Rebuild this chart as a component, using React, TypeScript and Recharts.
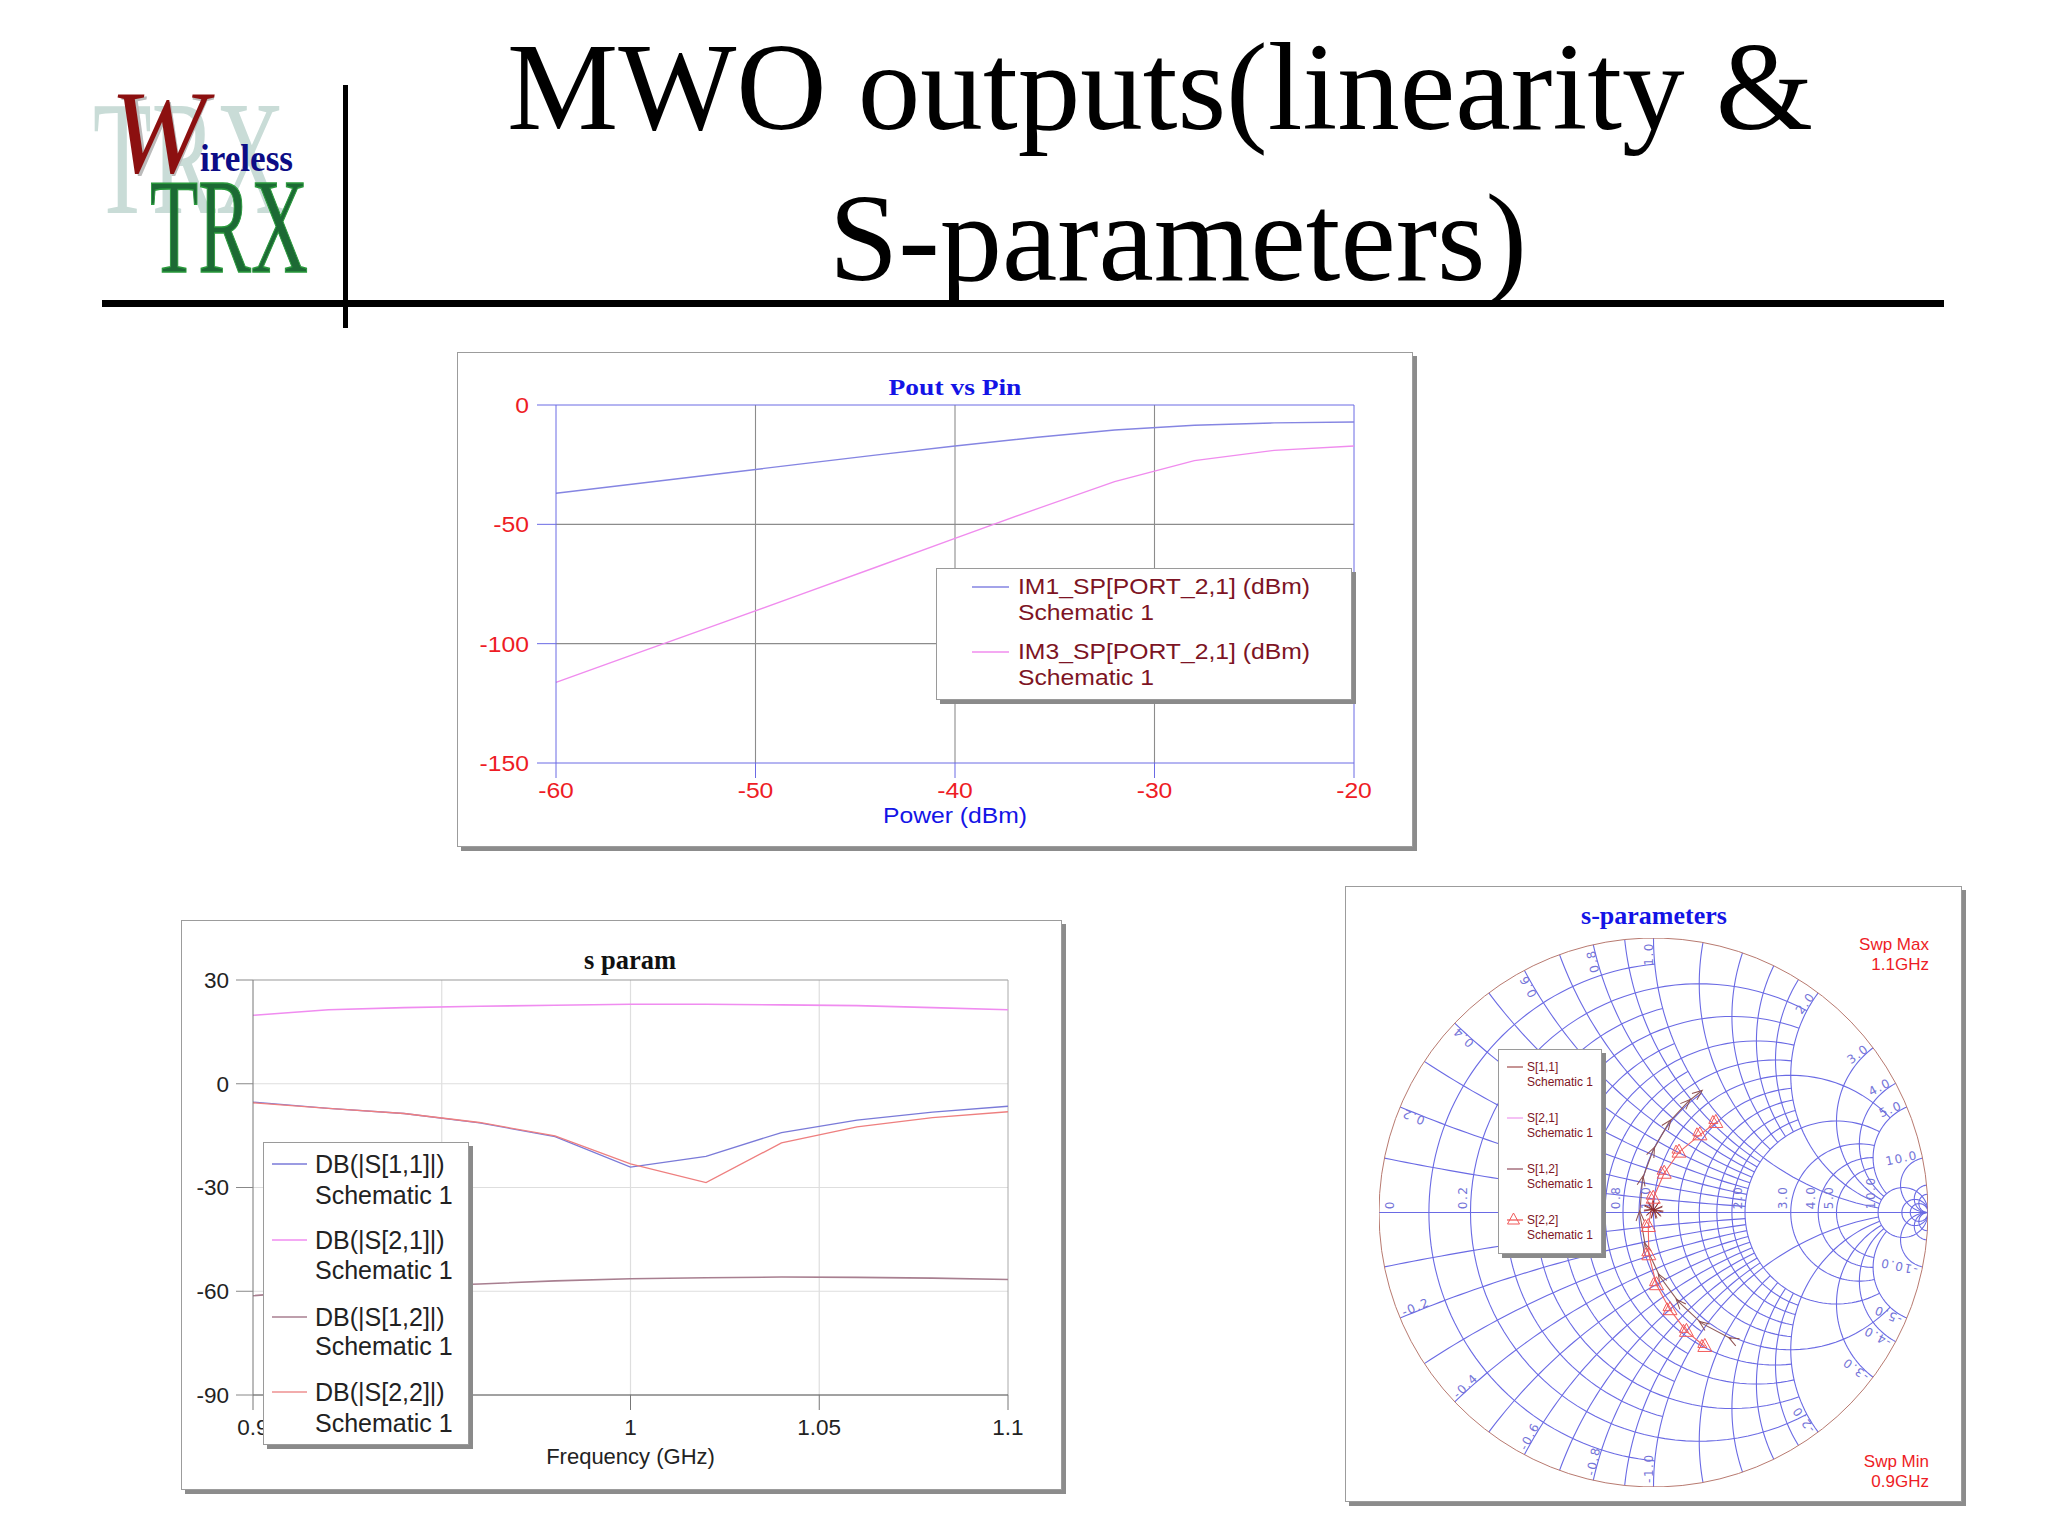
import React from 'react';
import {
  LineChart,
  ComposedChart,
  Line,
  XAxis,
  YAxis,
  CartesianGrid,
  ReferenceLine,
  ReferenceDot,
} from 'recharts';

// Pout vs Pin
const pinDbm = [-60, -56, -52, -48, -44, -40, -36, -32, -28, -24, -20];
const im1Dbm = [-37, -33, -29, -25, -21, -17.2, -13.6, -10.5, -8.5, -7.5, -7.1];
const im3Dbm = [-116.2, -104.2, -92.2, -80.2, -68.1, -55.9, -43.8, -32.1, -23.3, -19, -17.2];

// s param
const freqGhz = [0.9, 0.92, 0.94, 0.96, 0.98, 1, 1.02, 1.04, 1.06, 1.08, 1.1];
const s11Db = [-5.3, -7.1, -8.6, -11.3, -15.3, -24.1, -21, -14.1, -10.5, -8.2, -6.5];
const s21Db = [19.8, 21.4, 22, 22.4, 22.7, 23, 23, 22.8, 22.6, 22, 21.4];
const s12Db = [-61.3, -59.6, -58.6, -57.9, -57, -56.4, -56.1, -55.9, -56, -56.2, -56.6];
const s22Db = [-5.5, -7.1, -8.6, -11.2, -15.1, -23.2, -28.6, -17.1, -12.5, -9.8, -8.1];

// s-parameters, reflection coefficient
const s11Re = [0.284, 0.175, 0.09, 0.023, -0.03, -0.05, -0.04, -0.001, 0.057, 0.126, 0.169];
const s11Im = [-0.461, -0.403, -0.324, -0.233, -0.12, -0.005, 0.123, 0.228, 0.329, 0.404, 0.438];
const s22Re = [0.187, 0.12, 0.06, 0.011, -0.017, -0.019, -0.001, 0.039, 0.093, 0.169, 0.227];
const s22Im = [-0.488, -0.433, -0.354, -0.263, -0.154, -0.051, 0.052, 0.143, 0.22, 0.283, 0.328];
const s12Re = [0.002, 0.001, 0, -0.001, -0.002, -0.002, -0.001, 0, 0.001, 0.002, 0.002];
const s12Im = [0.012, 0.012, 0.012, 0.011, 0.01, 0.009, 0.008, 0.008, 0.009, 0.01, 0.011];

// Smith grid: constant r circles and constant x arcs, with how far each one runs
const rToX1 = [0.1, 0.3, 0.5, 0.7, 0.9];
const rToX2 = [0.2, 0.4, 0.6, 0.8, 1.2, 1.4, 1.6, 1.8];
const rToX5 = [1, 2, 3, 4, 5];
const rFull = [10, 20, 30];
const xToR2 = [0.1, 0.2, 0.3, 0.4, 0.5, 0.6, 0.7, 0.8, 0.9, 1.2, 1.4, 1.6, 1.8];
const xToR10 = [1, 2, 3, 4, 5];
const xFull = [10, 20, 30];
const rLabels = ['0.2', '0.8', '1.0', '2.0', '3.0', '4.0', '5.0', '10.0'];
const xLabels = ['0.2', '0.4', '0.6', '0.8', '1.0', '2.0', '3.0', '4.0', '5.0', '10.0'];

const BLUE = '#6a6ae4';
const RED = '#ee1c25';
const MAROON = '#7d1424';
const WIDE = 1.16; // first chart is stretched sideways on the slide

type Pt = { re: number; im: number };

const zip = (re: number[], im: number[]): Pt[] => re.map((v, i) => ({ re: v, im: im[i] }));

const gamma = (r: number, x: number): Pt => {
  const d = (r + 1) * (r + 1) + x * x;
  return { re: (r * r + x * x - 1) / d, im: (2 * x) / d };
};

const rCircle = (r: number, xMax: number): Pt[] => {
  const uMax = xMax === Infinity ? Math.PI / 2 : Math.atan(xMax / (1 + r));
  const pts: Pt[] = [];
  for (let i = 0; i <= 90; i++) {
    const u = -uMax + (2 * uMax * i) / 90;
    if (Math.abs(u) >= Math.PI / 2 - 1e-9) pts.push({ re: 1, im: 0 });
    else pts.push(gamma(r, (1 + r) * Math.tan(u)));
  }
  return pts;
};

const xArc = (x: number, rMax: number, sign: number): Pt[] => {
  const uMin = Math.atan(1 / x);
  const uMax = rMax === Infinity ? Math.PI / 2 : Math.atan((1 + rMax) / x);
  const pts: Pt[] = [];
  for (let i = 0; i <= 50; i++) {
    const u = uMin + ((uMax - uMin) * i) / 50;
    if (u >= Math.PI / 2 - 1e-9) pts.push({ re: 1, im: 0 });
    else pts.push(gamma(x * Math.tan(u) - 1, sign * x));
  }
  return pts;
};

const smithGrid: Pt[][] = [
  ...rToX1.map((r) => rCircle(r, 1)),
  ...rToX2.map((r) => rCircle(r, 2)),
  ...rToX5.map((r) => rCircle(r, 5)),
  ...rFull.map((r) => rCircle(r, Infinity)),
  ...[1, -1].flatMap((s) => [
    ...xToR2.map((x) => xArc(x, 2, s)),
    ...xToR10.map((x) => xArc(x, 10, s)),
    ...xFull.map((x) => xArc(x, Infinity, s)),
  ]),
  [{ re: -1, im: 0 }, { re: 1, im: 0 }],
];

const Frame = ({ left, top, width, height, children }: any) => (
  <div
    style={{
      position: 'absolute',
      left,
      top,
      width,
      height,
      boxSizing: 'border-box',
      background: '#fff',
      border: '1px solid #9c9c9c',
      boxShadow: '4px 4px 0 #8c8c8c',
    }}
  >
    {children}
  </div>
);

const Caption = ({ x, y, color, font, size, weight, anchor, scaleX, children }: any) => (
  <div
    style={{
      position: 'absolute',
      left: anchor === 'right' ? x - 300 : x - 150,
      width: 300,
      top: y - 20,
      height: 40,
      lineHeight: '40px',
      textAlign: anchor === 'right' ? 'right' : 'center',
      color,
      fontFamily: font,
      fontSize: size,
      fontWeight: weight ?? 400,
      whiteSpace: 'nowrap',
      transform: scaleX ? `scaleX(${scaleX})` : undefined,
      zIndex: 1,
    }}
  >
    {children}
  </div>
);

// legend rows: y is the centre of each text line inside the box
const LegendBox = ({ box, rows, swatchX, textX, font, size, textColor, scaleX }: any) => (
  <div
    style={{
      position: 'absolute',
      ...box,
      boxSizing: 'border-box',
      background: '#fff',
      border: '1px solid #9a9a9a',
      boxShadow: '4px 4px 0 #8a8a8a',
      zIndex: 2,
    }}
  >
    {rows.map((row: any, i: number) => (
      <React.Fragment key={i}>
        {row.color && (
          <svg
            width={swatchX[1] - swatchX[0] + 4}
            height={20}
            style={{ position: 'absolute', left: swatchX[0] - 2, top: row.y - 10 }}
          >
            <line x1={2} x2={swatchX[1] - swatchX[0] + 2} y1={10} y2={10} stroke={row.color} strokeWidth={1.3} />
            {row.triangle && <path d="M8.5,3 L2.5,14 L14.5,14 Z" fill="none" stroke={row.color} strokeWidth={1} />}
          </svg>
        )}
        <div
          style={{
            position: 'absolute',
            left: textX,
            top: row.y - 16,
            height: 32,
            lineHeight: '32px',
            fontFamily: font,
            fontSize: size,
            color: textColor,
            whiteSpace: 'nowrap',
            transform: scaleX ? `scaleX(${scaleX})` : undefined,
            transformOrigin: 'left center',
          }}
        >
          {row.text}
        </div>
      </React.Fragment>
    ))}
  </div>
);

const WideTick = ({ x, y, payload, textAnchor, dy }: any) => (
  <text
    transform={`translate(${x},${y}) scale(${WIDE},1)`}
    dy={dy}
    textAnchor={textAnchor}
    fill={RED}
    fontSize={21.3}
    fontFamily="'Liberation Sans'"
  >
    {payload.value}
  </text>
);

const PoutChart = () => {
  const data = pinDbm.map((p, i) => ({ p, im1: im1Dbm[i], im3: im3Dbm[i] }));
  return (
    <Frame left={457} top={352} width={956} height={495}>
      <Caption x={497} y={34} color="#1414e6" font="'Liberation Serif'" size={23.7} weight={700} scaleX={WIDE}>
        Pout vs Pin
      </Caption>
      <Caption x={497} y={463} color="#1414e6" font="'Liberation Sans'" size={21.3} scaleX={WIDE}>
        Power (dBm)
      </Caption>
      <LineChart width={954} height={493} data={data} margin={{ top: 52, right: 58, left: 0, bottom: 0 }}>
        <CartesianGrid stroke="#8c8c8c" strokeWidth={1.1} verticalValues={[-50, -40, -30]} horizontalValues={[-50, -100]} />
        <XAxis
          dataKey="p"
          type="number"
          domain={[-60, -20]}
          ticks={[-60, -50, -40, -30, -20]}
          height={83}
          tickSize={15}
          tickMargin={4}
          axisLine={{ stroke: BLUE }}
          tickLine={{ stroke: BLUE }}
          tick={<WideTick dy={15.5} />}
        />
        <YAxis
          type="number"
          domain={[-150, 0]}
          ticks={[-150, -100, -50, 0]}
          width={98}
          tickSize={19}
          tickMargin={8}
          axisLine={{ stroke: BLUE }}
          tickLine={{ stroke: BLUE }}
          tick={<WideTick dy={8} />}
        />
        <ReferenceLine y={0} stroke={BLUE} />
        <ReferenceLine x={-20} stroke={BLUE} />
        <Line dataKey="im1" stroke="#8585e2" strokeWidth={1.4} dot={false} isAnimationActive={false} />
        <Line dataKey="im3" stroke="#f08cee" strokeWidth={1.4} dot={false} isAnimationActive={false} />
      </LineChart>
      <LegendBox
        box={{ left: 478, top: 215, width: 416, height: 132 }}
        swatchX={[35, 72]}
        textX={81}
        font="'Liberation Sans'"
        size={21.3}
        scaleX={WIDE}
        textColor={MAROON}
        rows={[
          { y: 18, text: 'IM1_SP[PORT_2,1] (dBm)', color: '#8585e2' },
          { y: 44, text: 'Schematic 1' },
          { y: 83, text: 'IM3_SP[PORT_2,1] (dBm)', color: '#f08cee' },
          { y: 109, text: 'Schematic 1' },
        ]}
      />
    </Frame>
  );
};

const SParamChart = () => {
  const data = freqGhz.map((f, i) => ({ f, s11: s11Db[i], s21: s21Db[i], s12: s12Db[i], s22: s22Db[i] }));
  const tick = { fill: '#222', fontSize: 22.5, fontFamily: "'Liberation Sans'" };
  return (
    <Frame left={181} top={920} width={881} height={570}>
      <Caption x={448} y={39} color="#111" font="'Liberation Serif'" size={26.5} weight={700}>
        s param
      </Caption>
      <LineChart width={879} height={568} data={data} margin={{ top: 59, right: 53, left: 0, bottom: 0 }}>
        <CartesianGrid stroke="#dedede" strokeWidth={1.2} verticalValues={[0.95, 1, 1.05]} horizontalValues={[0, -30, -60]} />
        <XAxis
          dataKey="f"
          type="number"
          domain={[0.9, 1.1]}
          ticks={[0.9, 0.95, 1, 1.05, 1.1]}
          height={94}
          tickSize={15}
          tickMargin={9}
          axisLine={{ stroke: '#444' }}
          tickLine={{ stroke: '#777' }}
          tick={tick}
          label={{ value: 'Frequency (GHz)', position: 'insideBottom', offset: 25, fill: '#222', fontSize: 22, fontFamily: "'Liberation Sans'" }}
        />
        <YAxis
          type="number"
          domain={[-90, 30]}
          ticks={[-90, -60, -30, 0, 30]}
          width={71}
          tickSize={17}
          tickMargin={7}
          axisLine={{ stroke: '#777' }}
          tickLine={{ stroke: '#888' }}
          tick={tick}
        />
        <ReferenceLine y={30} stroke="#999" />
        <ReferenceLine x={1.1} stroke="#aaa" />
        <Line dataKey="s21" stroke="#f08cf0" strokeWidth={1.6} dot={false} isAnimationActive={false} />
        <Line dataKey="s12" stroke="#a87f90" strokeWidth={1.6} dot={false} isAnimationActive={false} />
        <Line dataKey="s11" stroke="#7a7ad8" strokeWidth={1.3} dot={false} isAnimationActive={false} />
        <Line dataKey="s22" stroke="#ee7f7f" strokeWidth={1.3} dot={false} isAnimationActive={false} />
      </LineChart>
      <LegendBox
        box={{ left: 81, top: 221, width: 206, height: 303 }}
        swatchX={[8, 43]}
        textX={51}
        font="'Liberation Sans'"
        size={25}
        textColor="#222"
        rows={[
          { y: 21, text: 'DB(|S[1,1]|)', color: '#7a7ad8' },
          { y: 52, text: 'Schematic 1' },
          { y: 97, text: 'DB(|S[2,1]|)', color: '#f08cf0' },
          { y: 127, text: 'Schematic 1' },
          { y: 174, text: 'DB(|S[1,2]|)', color: '#a87f90' },
          { y: 203, text: 'Schematic 1' },
          { y: 249, text: 'DB(|S[2,2]|)', color: '#ee9090' },
          { y: 280, text: 'Schematic 1' },
        ]}
      />
    </Frame>
  );
};

// arrow head marker that points along the trace
const arrowDot = (pts: Pt[], color: string) => (props: any) => {
  const { cx, cy, index } = props;
  const a = pts[Math.max(index - 1, 0)];
  const b = pts[Math.min(index + 1, pts.length - 1)];
  const deg = (Math.atan2(-(b.im - a.im), b.re - a.re) * 180) / Math.PI + 90;
  return (
    <path
      key={index}
      d={`M${cx - 4},${cy + 7} L${cx},${cy - 3} L${cx + 4},${cy + 7}`}
      fill="none"
      stroke={color}
      strokeWidth={1}
      transform={`rotate(${deg} ${cx} ${cy})`}
    />
  );
};

const burstDot = (color: string) => (props: any) => {
  const { cx, cy, index } = props;
  return (
    <path
      key={index}
      d={`M${cx - 3},${cy + 9} L${cx},${cy} L${cx + 3},${cy + 9}`}
      fill="none"
      stroke={color}
      strokeWidth={0.8}
      transform={`rotate(${index * 33} ${cx} ${cy})`}
    />
  );
};

const triangleDot = (color: string) => (props: any) => {
  const { cx, cy, index } = props;
  return (
    <g key={index} fill="none" stroke={color} strokeWidth={1}>
      <path d={`M${cx},${cy - 8} L${cx - 7},${cy + 5} L${cx + 7},${cy + 5} Z`} />
      <path d={`M${cx - 3},${cy - 7} L${cx - 7},${cy + 1} L${cx + 2},${cy + 1} Z`} />
    </g>
  );
};

const SmithLabel = ({ cx, cy, text, deg, anchor }: any) => (
  <text
    x={cx}
    y={cy}
    transform={`rotate(${deg} ${cx} ${cy})`}
    textAnchor={anchor}
    fill="#7474d8"
    fontSize={12}
    letterSpacing={1.5}
    fontFamily="'DejaVu Sans'"
  >
    {text}
  </text>
);

const SmithChart = () => {
  const s11 = zip(s11Re, s11Im);
  const s22 = zip(s22Re, s22Im);
  const s12 = zip(s12Re, s12Im);
  return (
    <Frame left={1345} top={886} width={617} height={616}>
      <Caption x={308} y={29} color="#1414e6" font="'Liberation Serif'" size={26} weight={700}>
        s-parameters
      </Caption>
      <Caption x={583} y={58} color={RED} font="'Liberation Sans'" size={17} anchor="right">
        Swp Max
      </Caption>
      <Caption x={583} y={78} color={RED} font="'Liberation Sans'" size={17} anchor="right">
        1.1GHz
      </Caption>
      <Caption x={583} y={575} color={RED} font="'Liberation Sans'" size={17} anchor="right">
        Swp Min
      </Caption>
      <Caption x={583} y={595} color={RED} font="'Liberation Sans'" size={17} anchor="right">
        0.9GHz
      </Caption>
      <div style={{ position: 'absolute', left: 0, top: 0 }}>
        <ComposedChart width={615} height={614} margin={{ top: 51, right: 33, left: 33, bottom: 14 }}>
          <XAxis dataKey="re" type="number" domain={[-1, 1]} hide allowDataOverflow />
          <YAxis dataKey="im" type="number" domain={[-1, 1]} hide allowDataOverflow />
          {smithGrid.map((pts, i) => (
            <Line key={i} data={pts} dataKey="im" stroke={BLUE} strokeWidth={1.1} dot={false} isAnimationActive={false} legendType="none" />
          ))}
          <Line data={rCircle(0, Infinity)} dataKey="im" stroke="#b87a70" strokeWidth={1} dot={false} isAnimationActive={false} legendType="none" />
          {['0', ...rLabels].map((t) => {
            const r = parseFloat(t);
            const re = r === 0 ? -0.945 : (r - 1) / (r + 1) - 0.012;
            return (
              <ReferenceDot
                key={`r${t}`}
                x={re}
                y={0.012}
                r={0}
                ifOverflow="visible"
                shape={(p: any) => <SmithLabel cx={p.cx} cy={p.cy} text={t} deg={-90} anchor="start" />}
              />
            );
          })}
          {xLabels.flatMap((t) => {
            const x = parseFloat(t);
            const g = gamma(0, x);
            const deg = (Math.atan2(g.im, g.re) * 180) / Math.PI;
            return [
              <ReferenceDot
                key={`xp${t}`}
                x={g.re * 0.985}
                y={g.im * 0.985}
                r={0}
                ifOverflow="visible"
                shape={(p: any) => <SmithLabel cx={p.cx} cy={p.cy} text={t} deg={-deg} anchor="end" />}
              />,
              <ReferenceDot
                key={`xn${t}`}
                x={g.re * 0.985}
                y={-g.im * 0.985}
                r={0}
                ifOverflow="visible"
                shape={(p: any) => <SmithLabel cx={p.cx} cy={p.cy} text={`-${t}`} deg={deg + 180} anchor="start" />}
              />,
            ];
          })}
          <Line data={s12} dataKey="im" stroke="#8a2a3a" strokeWidth={1} dot={burstDot('#8a2a2a')} isAnimationActive={false} legendType="none" />
          <Line data={s11} dataKey="im" stroke="#8e5a5a" strokeWidth={1.1} dot={arrowDot(s11, '#8e5050')} isAnimationActive={false} legendType="none" />
          <Line data={s22} dataKey="im" stroke="#f06464" strokeWidth={1.1} dot={triangleDot('#f25a5a')} isAnimationActive={false} legendType="none" />
        </ComposedChart>
      </div>
      <LegendBox
        box={{ left: 152, top: 162, width: 104, height: 205 }}
        swatchX={[8, 24]}
        textX={28}
        font="'Liberation Sans'"
        size={12}
        textColor={MAROON}
        rows={[
          { y: 17, text: 'S[1,1]', color: '#a85a5a' },
          { y: 32, text: 'Schematic 1' },
          { y: 68, text: 'S[2,1]', color: '#f0a0f0' },
          { y: 83, text: 'Schematic 1' },
          { y: 119, text: 'S[1,2]', color: '#985a6a' },
          { y: 134, text: 'Schematic 1' },
          { y: 170, text: 'S[2,2]', color: '#f05a5a', triangle: true },
          { y: 185, text: 'Schematic 1' },
        ]}
      />
    </Frame>
  );
};

const SlideHeader = () => (
  <>
    <svg width={2048} height={340} style={{ position: 'absolute', left: 0, top: 0 }}>
      <g fontFamily="'Liberation Serif'">
        <text x={507} y={129} fontSize={125} textLength={1306} lengthAdjust="spacingAndGlyphs">
          MWO outputs(linearity &amp;
        </text>
        <text x={829} y={280} fontSize={125} textLength={698} lengthAdjust="spacingAndGlyphs">
          S-parameters)
        </text>
        <text x={93} y={213} fontSize={163} fill="#c9dcd7" textLength={192} lengthAdjust="spacingAndGlyphs">
          TRX
        </text>
        <text x={150} y={272} fontSize={136} fill="#1c6a34" stroke="#2a9a3c" strokeWidth={1.5} textLength={158} lengthAdjust="spacingAndGlyphs">
          TRX
        </text>
        <text x={114} y={174} fontSize={118} fontStyle="italic" fill="#bbb" textLength={92} lengthAdjust="spacingAndGlyphs">
          W
        </text>
        <text x={110} y={172} fontSize={118} fontStyle="italic" fill="#8c1010" textLength={96} lengthAdjust="spacingAndGlyphs">
          W
        </text>
        <text x={200} y={171} fontSize={38} fontWeight={700} fill="#0c0c86" textLength={93} lengthAdjust="spacingAndGlyphs">
          ireless
        </text>
      </g>
    </svg>
    <div style={{ position: 'absolute', left: 102, top: 300, width: 1842, height: 7, background: '#000' }} />
    <div style={{ position: 'absolute', left: 343, top: 85, width: 5, height: 243, background: '#000' }} />
  </>
);

export default function App() {
  return (
    <div style={{ position: 'absolute', left: 0, top: 0, width: 2048, height: 1536, background: '#fff', overflow: 'hidden' }}>
      <SlideHeader />
      <PoutChart />
      <SParamChart />
      <SmithChart />
    </div>
  );
}
